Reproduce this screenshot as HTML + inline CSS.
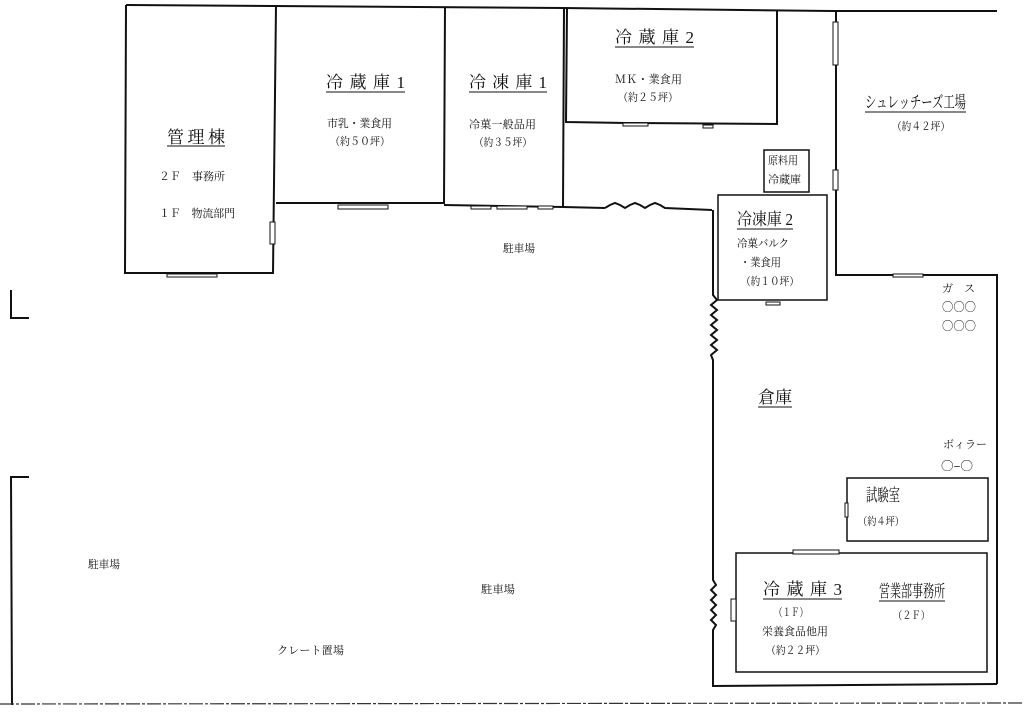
<!DOCTYPE html>
<html><head><meta charset="utf-8"><style>
html,body{margin:0;padding:0;background:#fff;width:1024px;height:718px;overflow:hidden}
svg{display:block}
text{font-family:"Liberation Serif","Noto Serif CJK JP","Noto Sans CJK JP",serif;fill:#111}
.s{font-size:11px}
.h{font-size:17px}
.c{font-family:"Noto Sans CJK JP",sans-serif;font-size:12px}
.hu{stroke:#111;stroke-width:1}
</style></head><body>
<svg width="1024" height="718" viewBox="0 0 1024 718" xmlns="http://www.w3.org/2000/svg">
<g fill="none" stroke="#111" stroke-width="2">
<path d="M126 5 L563 8 L832 11 L997 11"/>
<path d="M126 5 L125 273 L273 273 L276 5"/>
<path d="M276 203 L444 203 L445 8"/>
<path d="M444 205 L563 207 L564 8"/>
<path d="M563 207 L605 208"/>
<path d="M605 208 l5 -3 l5 -2 l5 2 l5 3 l5 -3 l5 -2 l5 2 l5 3 l5 -3 l5 -2 l5 2 l5 3 L712 210"/>
<path d="M567 8 L566 122 L627 123 L777 124 L777 11"/>
<path d="M713 210 L713 295 l4 5 l-6 5 l6 5 l-6 5 l6 5 l-6 5 l6 5 l-6 5 l6 5 l-6 5 l6 5 l-6 5 l2 5 L713 580 l3 5 l-5 5 l5 5 l-5 5 l5 5 l-5 5 l5 5 l-5 5 l5 5 l-3 5 L713 686 L997 684"/>
<path d="M836 11 L836 275 L997 275 L997 684"/>
</g>
<g fill="none" stroke="#111" stroke-width="1.5">
<rect x="718" y="195" width="109" height="105"/>
<rect x="764" y="150" width="45" height="42"/>
<rect x="847" y="478" width="141" height="63"/>
<rect x="736" y="553" width="251" height="119"/>
</g>
<g fill="#fff" stroke="#111" stroke-width="1">
<rect x="270" y="222" width="5" height="22"/>
<rect x="167" y="274" width="50" height="3"/>
<rect x="338" y="205" width="50" height="4"/>
<rect x="471" y="206" width="20" height="3"/><rect x="497" y="206" width="30" height="3"/><rect x="538" y="206" width="15" height="3"/>
<rect x="623" y="123" width="25" height="3"/><rect x="703" y="125" width="10" height="3"/>
<rect x="833" y="22" width="5" height="43"/><rect x="833" y="170" width="5" height="20"/>
<rect x="893" y="274" width="30" height="3"/>
<rect x="766" y="302" width="14" height="3"/>
<rect x="793" y="550" width="46" height="4"/>
<rect x="731" y="599" width="5" height="22"/>
<rect x="845" y="503" width="3" height="14"/>
</g>
<g fill="none" stroke="#111" stroke-width="2">
<path d="M11 290 L11 318 L29 318"/>
<path d="M29 477 L11 477 L12 705"/>
</g>
<path d="M0 704 L1024 703" stroke="#333" stroke-width="1.2" stroke-dasharray="14 2 3 2"/>

<text x="167" y="143" class="h" textLength="58" lengthAdjust="spacing">管理棟</text>
<line x1="167" y1="146" x2="225" y2="146" class="hu"/>
<text x="159" y="180" class="s" textLength="66" lengthAdjust="spacing">２Ｆ　事務所</text>
<text x="159" y="217" class="s" textLength="76" lengthAdjust="spacing">１Ｆ　物流部門</text>

<text x="326" y="88" class="h" textLength="79" lengthAdjust="spacing">冷蔵庫1</text>
<line x1="326" y1="92" x2="405" y2="92" class="hu"/>
<text x="327" y="127" class="s" textLength="65" lengthAdjust="spacing">市乳・業食用</text>
<text x="330" y="145" class="s" textLength="60" lengthAdjust="spacingAndGlyphs">（約５０坪）</text>

<text x="469" y="88" class="h" textLength="78" lengthAdjust="spacing">冷凍庫1</text>
<line x1="469" y1="92" x2="547" y2="92" class="hu"/>
<text x="469" y="128" class="s" textLength="67" lengthAdjust="spacing">冷菓一般品用</text>
<text x="474" y="146" class="s" textLength="58" lengthAdjust="spacingAndGlyphs">（約３５坪）</text>

<text x="615" y="43" class="h" textLength="79" lengthAdjust="spacing">冷蔵庫2</text>
<line x1="615" y1="47" x2="694" y2="47" class="hu"/>
<text x="615" y="83" class="s" textLength="67" lengthAdjust="spacing">ＭＫ・業食用</text>
<text x="618" y="101" class="s" textLength="60" lengthAdjust="spacingAndGlyphs">（約２５坪）</text>

<text x="865" y="108" class="h" textLength="101" lengthAdjust="spacingAndGlyphs">シュレッチーズ工場</text>
<line x1="865" y1="112" x2="966" y2="112" class="hu"/>
<text x="892" y="130" class="s" textLength="58" lengthAdjust="spacingAndGlyphs">（約４２坪）</text>

<text x="768" y="164" class="s" textLength="30" lengthAdjust="spacingAndGlyphs">原料用</text>
<text x="768" y="183" class="s" textLength="33" lengthAdjust="spacingAndGlyphs">冷蔵庫</text>

<text x="737" y="225" class="h" textLength="56" lengthAdjust="spacingAndGlyphs">冷凍庫 2</text>
<line x1="737" y1="229" x2="793" y2="229" class="hu"/>
<text x="737" y="247" class="s" textLength="52" lengthAdjust="spacingAndGlyphs">冷菓バルク</text>
<text x="740" y="266" class="s" textLength="41" lengthAdjust="spacingAndGlyphs">・業食用</text>
<text x="741" y="285" class="s" textLength="58" lengthAdjust="spacingAndGlyphs">（約１０坪）</text>

<text x="942" y="292" class="s" textLength="33" lengthAdjust="spacing">ガス</text>
<text x="942" y="311" class="c" textLength="34" lengthAdjust="spacingAndGlyphs">○○○</text>
<text x="942" y="330" class="c" textLength="34" lengthAdjust="spacingAndGlyphs">○○○</text>

<text x="758" y="403" class="h" textLength="34" lengthAdjust="spacingAndGlyphs">倉庫</text>
<line x1="758" y1="407" x2="792" y2="407" class="hu"/>

<text x="943" y="448" class="s" textLength="44" lengthAdjust="spacing">ボィラー</text>
<text x="941" y="470" class="c" textLength="32" lengthAdjust="spacingAndGlyphs">○‒○</text>

<text x="866" y="501" class="h" textLength="34" lengthAdjust="spacingAndGlyphs">試験室</text>
<text x="858" y="525" class="s" textLength="46" lengthAdjust="spacingAndGlyphs">（約４坪）</text>

<text x="763" y="595" class="h" textLength="79" lengthAdjust="spacing">冷蔵庫3</text>
<line x1="763" y1="599" x2="842" y2="599" class="hu"/>
<text x="774" y="616" class="s" textLength="34" lengthAdjust="spacingAndGlyphs">（１Ｆ）</text>
<text x="762" y="635" class="s" textLength="66" lengthAdjust="spacing">栄養食品他用</text>
<text x="766" y="654" class="s" textLength="59" lengthAdjust="spacingAndGlyphs">（約２２坪）</text>
<text x="879" y="597" class="h" textLength="66" lengthAdjust="spacingAndGlyphs">営業部事務所</text>
<line x1="879" y1="601" x2="945" y2="601" class="hu"/>
<text x="893" y="619" class="s" textLength="37" lengthAdjust="spacingAndGlyphs">（２Ｆ）</text>

<text x="503" y="252" class="s" textLength="32" lengthAdjust="spacingAndGlyphs">駐車場</text>
<text x="88" y="568" class="s" textLength="32" lengthAdjust="spacingAndGlyphs">駐車場</text>
<text x="481" y="593" class="s" textLength="34" lengthAdjust="spacingAndGlyphs">駐車場</text>
<text x="277" y="654" class="s" textLength="67" lengthAdjust="spacing">クレート置場</text>
</svg>
</body></html>
